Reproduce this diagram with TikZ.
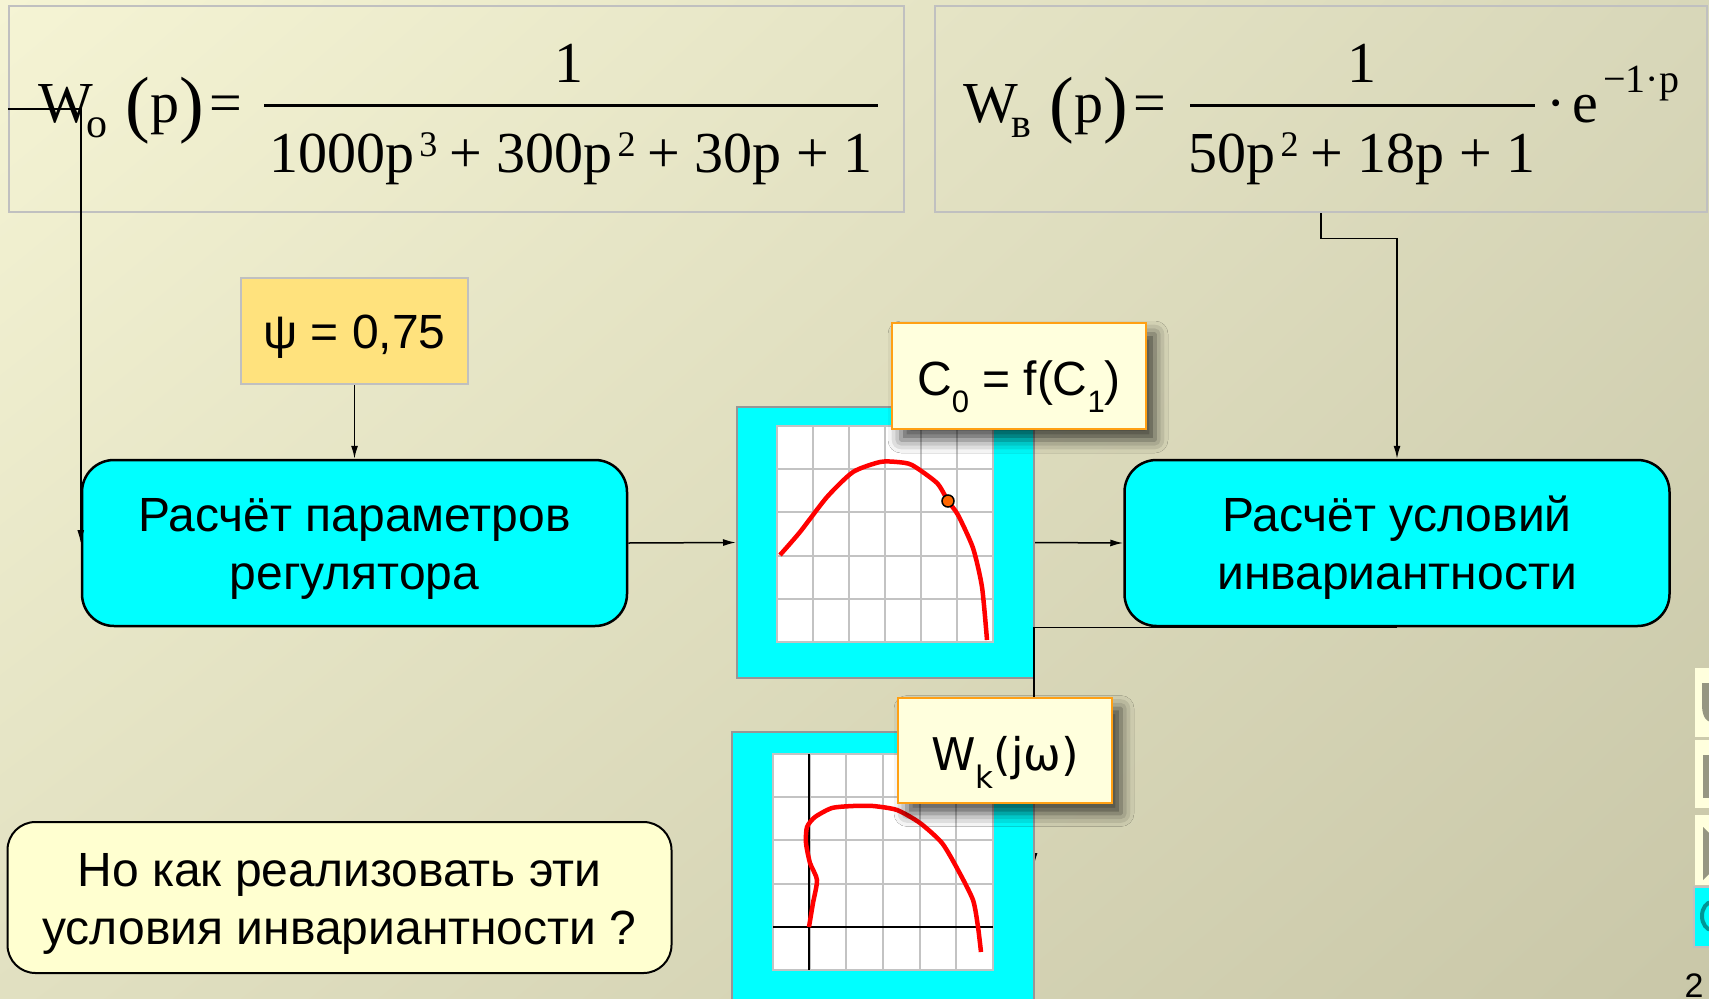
\documentclass[tikz,border=0pt]{standalone}
\usepackage{fontspec}
\setmainfont{Liberation Sans}
\newfontfamily\timesrm{Liberation Serif}
\newfontfamily\tahoma{DejaVu Sans}
\usetikzlibrary{arrows.meta,shadows.blur,shadings}

\definecolor{bgUL}{RGB}{245,244,212}
\definecolor{bgUR}{RGB}{216,215,185}
\definecolor{bgLL}{RGB}{225,224,193}
\definecolor{bgLR}{RGB}{201,199,168}
\definecolor{boxcyan}{RGB}{0,255,255}
\definecolor{psiyellow}{RGB}{255,226,125}
\definecolor{paleyellow}{RGB}{255,255,221}
\definecolor{noteyellow}{RGB}{255,255,208}
\definecolor{tagorange}{RGB}{255,160,20}
\definecolor{rimgray}{RGB}{192,192,192}
\definecolor{framegray}{RGB}{150,150,150}
\definecolor{gridgray}{RGB}{195,195,195}
\definecolor{dotorange}{RGB}{255,102,0}
\definecolor{navgray}{RGB}{150,150,130}
\definecolor{navteal}{RGB}{0,150,150}

% pieces of the formulas
\newcommand\upidx[1]{\kern5pt\raisebox{16pt}{\fontsize{36}{36}\selectfont #1}\kern12pt}
\newcommand\dnidx[1]{\raisebox{-15pt}{\fontsize{42}{42}\selectfont #1}}
\newcommand\bigpar[1]{\raisebox{-6pt}{\fontsize{74}{74}\selectfont #1}}
\newcommand\tagidx[2]{\raisebox{-#1}[0pt][0pt]{\fontsize{31}{31}\selectfont #2}}

\tikzset{
  wire/.style={line width=1.5pt,-{Latex[length=13pt,width=7pt]}},
  formbox/.style={draw=rimgray,line width=2.5pt,inner sep=0pt},
  formtext/.style={inner sep=0pt,font=\timesrm\fontsize{58}{58}\selectfont},
  calcbox/.style={draw=black,line width=2.5pt,fill=boxcyan,rounded corners=32pt,align=center,
    font=\fontsize{48}{58}\selectfont,text height=93pt,text depth=0pt,
    minimum width=545pt,minimum height=166pt},
  psibox/.style={draw=rimgray,line width=2pt,fill=psiyellow,font=\fontsize{48}{48}\selectfont,
    text height=35pt,text depth=0pt},
  tagbox/.style={draw=tagorange,line width=2pt,fill=paleyellow,text depth=0pt,
    blur shadow={shadow xshift=9pt,shadow yshift=-11pt,shadow blur radius=13pt,shadow opacity=70}},
  plotframe/.style={draw=framegray,line width=2pt,fill=boxcyan},
  plotgrid/.style={draw=gridgray,line width=2pt},
  redcurve/.style={draw=red,line width=4.5pt,line join=round},
  notebox/.style={draw=black,line width=2pt,fill=noteyellow,rounded corners=28pt,align=center,
    font=\fontsize{48}{58}\selectfont,text height=93pt,text depth=0pt}
}

\begin{document}
\begin{tikzpicture}[x=1pt,y=-1pt]
\useasboundingbox (0,0) rectangle (1709,999);
\clip (0,0) rectangle (1709,999);
\shade[upper left=bgUL,upper right=bgUR,lower left=bgLL,lower right=bgLR] (0,0) rectangle (1709,999);

% object and disturbance channel
\node[formbox,minimum width=895pt,minimum height=206pt] (formA) at (456.5,109) {};
\node[formbox,minimum width=772pt,minimum height=206pt] (formB) at (1321,109) {};

\node[formtext,anchor=base west] (woLhs) at (38,122) {W\kern-6pt\dnidx{o}\kern18pt\bigpar{(}p\bigpar{)}\kern5pt=};
\node[formtext,anchor=base] (woNum) at (569,82) {1};
\draw[line width=3pt] (264,105) -- (878,105);
\node[formtext,anchor=base] (woDen) at (571,172) {1000p\upidx{3}+ 300p\upidx{2}+ 30p + 1};

\node[formtext,anchor=base west] (wvLhs) at (963,122) {W\kern-6pt\dnidx{в}\kern18pt\bigpar{(}p\bigpar{)}\kern5pt=};
\node[formtext,anchor=base] (wvNum) at (1362,82) {1};
\draw[line width=3pt] (1190,105) -- (1535,105);
\node[formtext,anchor=base] (wvDen) at (1362,172) {50p\upidx{2}+ 18p + 1};
\node[formtext,anchor=base west] (wvExp) at (1546,122) {·\kern7pt e};
\node[formtext,anchor=base west,font=\timesrm\fontsize{40}{40}\selectfont] (wvPow) at (1603,92) {−1·p};

% calculation blocks
\node[psibox,minimum width=227pt,minimum height=106pt] (psi) at (354.5,331) {ψ = 0,75};
\node[calcbox] (box1) at (354.5,543) {Расчёт параметров\\регулятора};
\node[calcbox] (box2) at (1397,543) {Расчёт условий\\инвариантности};

% C0 = f(C1) plot
\node[plotframe,minimum width=297pt,minimum height=271pt] (plotA) at (885.5,542.5) {};
\draw[plotgrid,fill=white] (777,426) rectangle (993,642);
\draw[plotgrid,shift={(777,426)},xstep=36pt,ystep=43.2pt] (0,0) grid (216,216);
\draw[redcurve] plot[smooth,tension=0.4] coordinates {(780,555) (800,532) (827,497) (853,472)
  (880,462) (897,462) (912,465) (937,483) (948,501) (958,515) (973,548) (982,587) (987,640)};
\node[circle,draw=black,line width=1.5pt,fill=dotorange,minimum size=12pt,inner sep=0pt] (opt) at (948,501) {};
\node[tagbox,minimum width=254pt,minimum height=106pt,font=\fontsize{48}{48}\selectfont,text height=38pt]
  (czero) at (1019,376) {C\tagidx{17pt}{0} = f(C\tagidx{17pt}{1})};

% links
\draw[wire] (formA.west) -| (box1.west);
\draw[wire] (psi.south) -- (box1.north);
\draw[wire] (formB.south) -- ++(0,25) -| (box2.north);
\draw[wire] (box1.east) -- (plotA.west);
\draw[wire] (plotA.east) -- (box2.west);
\coordinate (wkfeed) at (1034,866);
\draw[wire] (box2.south) -| (wkfeed);

% Wk(jw) plot
\node[plotframe,minimum width=302pt,minimum height=290pt] (plotB) at (883,877) {};
\draw[plotgrid,fill=white] (773,754) rectangle (993,970);
\draw[plotgrid,shift={(773,754)},xstep=36.667pt,ystep=43.2pt] (0,0) grid (220,216);
\draw[line width=2pt] (809,754) -- (809,970);
\draw[line width=2pt] (773,927) -- (993,927);
\draw[redcurve] plot[smooth,tension=0.4] coordinates {(809,927) (813,903) (817,880) (810,863)
  (806,843) (807,827) (815,817) (832,808) (853,806) (873,806) (897,810) (920,823) (942,843)
  (958,870) (973,900) (978,927) (981,952)};
\node[tagbox,minimum width=214pt,minimum height=105pt,font=\tahoma\fontsize{45}{45}\selectfont,text height=40pt]
  (wk) at (1005,750) {W\tagidx{18pt}{k}(jω)};

% question
\node[notebox,minimum width=664pt,minimum height=151pt] (note) at (339.5,897.5)
  {Но как реализовать эти\\условия инвариантности ?};

% slide buttons at the right edge
\fill[paleyellow] (1695,668) rectangle (1712,737);
\fill[navgray] (1702,683) -- (1712,683) -- (1712,722) to[out=180,in=-90] (1702,705) -- cycle;
\fill[paleyellow] (1695,740) rectangle (1712,808);
\fill[navgray] (1703,755) rectangle (1712,798);
\fill[paleyellow] (1695,815) rectangle (1712,885);
\fill[navgray] (1703,827) -- (1712,836) -- (1712,871) -- (1703,880) -- cycle;
\draw[rimgray,line width=2pt,fill=boxcyan] (1694,887) rectangle (1712,947);
\draw[navteal,line width=4pt] (1712,902) arc (90:270:10pt and 14pt);
\node[anchor=base west,font=\fontsize{34}{34}\selectfont] (pageno) at (1681,997) {2};
\end{tikzpicture}
\end{document}
